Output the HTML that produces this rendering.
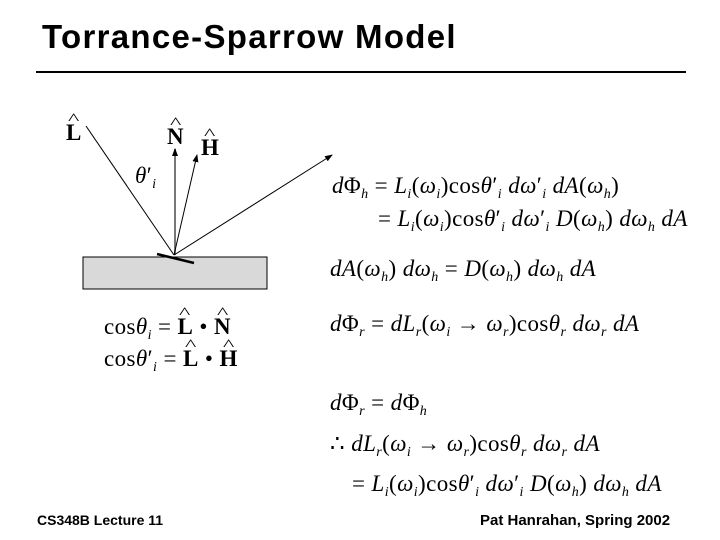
<!DOCTYPE html>
<html><head><meta charset="utf-8"><style>
body{margin:0;width:720px;height:540px;background:#fff;position:relative;overflow:hidden;font-family:"Liberation Serif",serif}
.t{position:absolute;left:42px;top:18px;font:bold 33px "Liberation Sans",sans-serif;letter-spacing:1.3px}
.rule{position:absolute;left:36px;top:71px;width:650px;height:2px;background:#000}
.f{position:absolute;top:512px;font:bold 15px "Liberation Sans",sans-serif}
.e{position:absolute;font-size:23px;white-space:nowrap;line-height:26px;letter-spacing:0.4px}
i{font-style:italic}
sub{font-size:14px;vertical-align:-5px;line-height:0}
.b{font-weight:bold;font-style:normal}
.hat{position:relative;display:inline-block}
.hat::before{content:"^";position:absolute;left:50%;top:-13px;transform:translateX(-50%) scaleX(1.5);font-size:16px;font-weight:normal}
</style></head><body>
<div class="t">Torrance-Sparrow Model</div>
<div class="rule"></div>
<svg width="720" height="540" style="position:absolute;left:0;top:0">
<defs><marker id="a" markerUnits="userSpaceOnUse" markerWidth="8" markerHeight="6" refX="7" refY="3" orient="auto"><path d="M0,0L8,3L0,6z" fill="#000"/></marker></defs>
<rect x="83" y="257" width="184" height="32" fill="#d9d9d9" stroke="#000" stroke-width="1"/>
<line x1="86" y1="126" x2="174" y2="255" stroke="#000" stroke-width="1"/>
<line x1="175" y1="255" x2="175" y2="149" stroke="#777" stroke-width="2" marker-end="url(#a)"/>
<line x1="174" y1="255" x2="197" y2="155" stroke="#000" stroke-width="1" marker-end="url(#a)"/>
<line x1="174" y1="255" x2="332" y2="155" stroke="#000" stroke-width="1" marker-end="url(#a)"/>
<line x1="157" y1="254" x2="194" y2="263" stroke="#000" stroke-width="2.5"/>
</svg>
<div class="e" style="left:66px;top:120px"><span class="hat b">L</span></div>
<div class="e" style="left:167px;top:124px"><span class="hat b">N</span></div>
<div class="e" style="left:201px;top:135px"><span class="hat b">H</span></div>
<div class="e" style="left:135px;top:163px"><i>θ</i>′<sub><i>i</i></sub></div>

<div class="e" style="left:332px;top:173px"><i>d</i>Φ<sub><i>h</i></sub> = <i>L<sub>i</sub></i>(<i>ω<sub>i</sub></i>)cos<i>θ</i>′<sub><i>i</i></sub> <i>dω</i>′<sub><i>i</i></sub> <i>dA</i>(<i>ω<sub>h</sub></i>)</div>
<div class="e" style="left:378px;top:206px">= <i>L<sub>i</sub></i>(<i>ω<sub>i</sub></i>)cos<i>θ</i>′<sub><i>i</i></sub> <i>dω</i>′<sub><i>i</i></sub> <i>D</i>(<i>ω<sub>h</sub></i>) <i>dω<sub>h</sub> dA</i></div>
<div class="e" style="left:330px;top:256px"><i>dA</i>(<i>ω<sub>h</sub></i>) <i>dω<sub>h</sub></i> = <i>D</i>(<i>ω<sub>h</sub></i>) <i>dω<sub>h</sub> dA</i></div>
<div class="e" style="left:330px;top:311px"><i>d</i>Φ<sub><i>r</i></sub> = <i>dL<sub>r</sub></i>(<i>ω<sub>i</sub></i> → <i>ω<sub>r</sub></i>)cos<i>θ<sub>r</sub> dω<sub>r</sub> dA</i></div>
<div class="e" style="left:330px;top:390px"><i>d</i>Φ<sub><i>r</i></sub> = <i>d</i>Φ<sub><i>h</i></sub></div>
<div class="e" style="left:330px;top:431px">∴ <i>dL<sub>r</sub></i>(<i>ω<sub>i</sub></i> → <i>ω<sub>r</sub></i>)cos<i>θ<sub>r</sub> dω<sub>r</sub> dA</i></div>
<div class="e" style="left:352px;top:471px">= <i>L<sub>i</sub></i>(<i>ω<sub>i</sub></i>)cos<i>θ</i>′<sub><i>i</i></sub> <i>dω</i>′<sub><i>i</i></sub> <i>D</i>(<i>ω<sub>h</sub></i>) <i>dω<sub>h</sub> dA</i></div>

<div class="e" style="left:104px;top:314px">cos<i>θ<sub>i</sub></i> = <span class="hat b">L</span> • <span class="hat b">N</span></div>
<div class="e" style="left:104px;top:346px">cos<i>θ</i>′<sub><i>i</i></sub> = <span class="hat b">L</span> • <span class="hat b">H</span></div>

<div class="f" style="left:37px;font-size:14px">CS348B Lecture 11</div>
<div class="f" style="left:480px">Pat Hanrahan, Spring 2002</div>
</body></html>
